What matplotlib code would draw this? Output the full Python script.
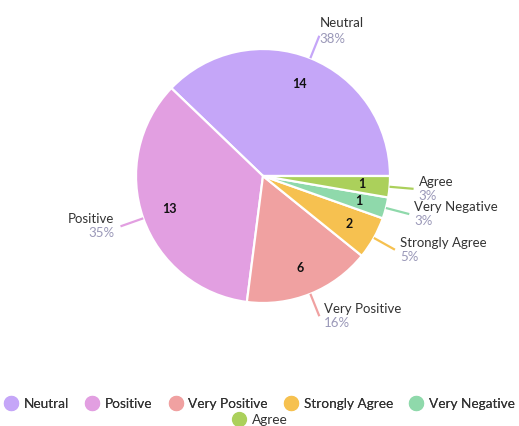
import numpy as np
import matplotlib.pyplot as plt
import matplotlib.transforms as mtrans
from matplotlib.lines import Line2D

plt.rcParams['font.family'] = ['Lato', 'DejaVu Sans']

labels = ['Neutral', 'Positive', 'Very Positive', 'Strongly Agree', 'Very Negative', 'Agree']
counts = [14, 13, 6, 2, 1, 1]
colors = ['#c5a6f8', '#e29fe1', '#f0a1a1', '#f6c150', '#8fd9ab', '#abd05b']

W, H = 519, 426
fig = plt.figure(figsize=(W / 100, H / 100), dpi=100)
cx, cy, R = 263, 176, 127
ax = fig.add_axes([(cx - R) / W, (H - cy - R) / H, 2 * R / W, 2 * R / H])

wedges, _ = ax.pie(counts, colors=colors, startangle=0, counterclock=True, radius=1,
                   wedgeprops=dict(edgecolor='white', linewidth=1.6))
ax.set_xlim(-1, 1)
ax.set_ylim(-1, 1)
ax.axis('off')

total = sum(counts)
for w, lab, n, c in zip(wedges, labels, counts, colors):
    mid = np.deg2rad((w.theta1 + w.theta2) / 2)
    cs, sn = np.cos(mid), np.sin(mid)
    ax.text(0.78 * cs, 0.78 * sn, str(n), ha='center', va='center',
            fontsize=9, fontweight='bold', color='#111111')
    ax.plot([1.0 * cs, 1.19 * cs], [1.0 * sn, 1.19 * sn], color=c, lw=1.6,
            clip_on=False, solid_capstyle='butt')
    right = cs >= 0
    dx = 5 if right else -6
    ha = 'left' if right else 'right'
    dy_name, dy_pct = 7, -7
    if lab == 'Neutral':
        dx, dy_name, dy_pct = 0, 13, -3
    t1 = mtrans.offset_copy(ax.transData, fig=fig, x=dx, y=dy_name, units='dots')
    t2 = mtrans.offset_copy(ax.transData, fig=fig, x=dx, y=dy_pct, units='dots')
    ax.text(1.19 * cs, 1.19 * sn, lab, transform=t1, ha=ha, va='center',
            fontsize=9.5, color='#333333', clip_on=False)
    ax.text(1.19 * cs, 1.19 * sn, '%d%%' % round(100 * n / total), transform=t2,
            ha=ha, va='center', fontsize=9.5, color='#9a98b8', clip_on=False)

handles = [Line2D([], [], marker='o', ls='', markersize=10, markerfacecolor=c,
                  markeredgecolor=c) for c in colors]
leg1 = fig.legend(handles[:5], labels[:5], loc='center', bbox_to_anchor=(0.5, 1 - 404 / H),
                  ncol=5, frameon=False, fontsize=9.8, handletextpad=0.45, columnspacing=1.2,
                  handlelength=1.0, labelcolor='#333333')
leg2 = fig.legend(handles[5:], labels[5:], loc='center', bbox_to_anchor=(0.5, 1 - 420 / H),
                  ncol=1, frameon=False, fontsize=9.8, handletextpad=0.45,
                  handlelength=1.0, labelcolor='#333333')
fig.add_artist(leg1)

fig.savefig('out.png', dpi=100)
